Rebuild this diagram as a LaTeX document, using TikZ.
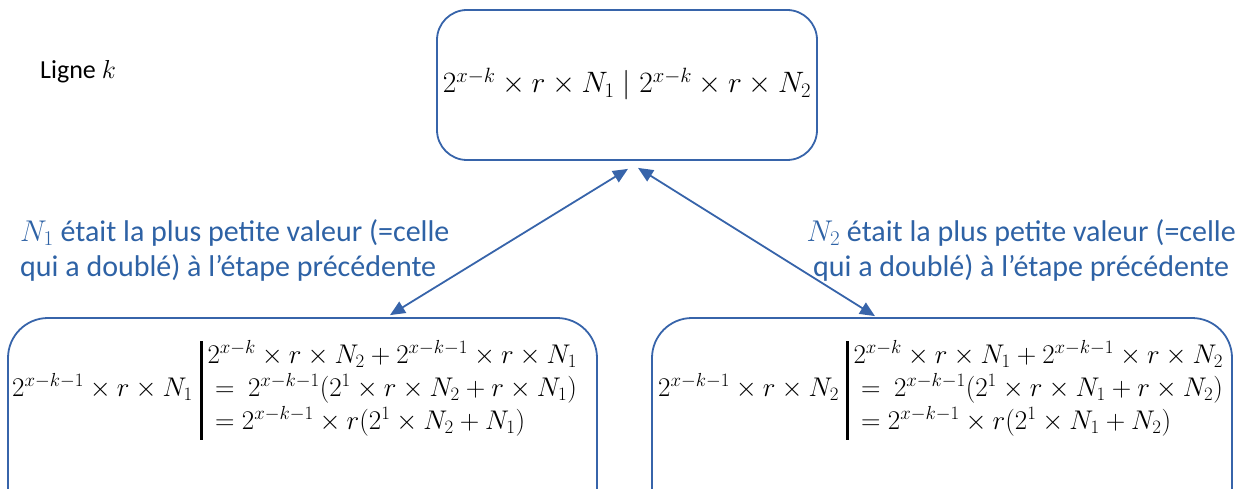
\RequirePackage{fix-cm}
\documentclass[tikz,border=0pt]{standalone}
\usepackage[no-math]{fontspec}
\usepackage{array}
\setmainfont{Carlito}
\usetikzlibrary{arrows.meta,calc}
\definecolor{lineblue}{RGB}{55,100,170}
\definecolor{textblue}{RGB}{46,98,165}
\tikzset{
  box/.style={draw=lineblue, line width=1.8pt, fill=none},
  arr/.style={draw=lineblue, line width=1.8pt, {Triangle[length=15pt,width=13pt]}-{Triangle[length=15pt,width=13pt]}},
  lbl/.style={text=textblue, font=\fontsize{30}{35}\selectfont, inner sep=0pt},
  mathtxt/.style={inner sep=0pt, font=\fontsize{27}{33}\selectfont}
}
\setlength{\arrayrulewidth}{2.6pt}
\begin{document}
\begin{tikzpicture}[x=1pt,y=-1pt]
\useasboundingbox (0,0) rectangle (1248,489);
\clip (0,0) rectangle (1248,489);
% boxes
\node[box, rounded corners=30pt, minimum width=380pt, minimum height=150pt] (top) at (627,85) {};
\node[box, rounded corners=40pt, minimum width=589pt, minimum height=240pt] (lbox) at (302.5,438) {};
\node[box, rounded corners=40pt, minimum width=580pt, minimum height=240pt] (rbox) at (942,438) {};
% texts
\node[inner sep=0pt, font=\fontsize{29.5}{35}\selectfont] (toptext) at (627,84) {$2^{x-k}\times r\times N_1 \mid 2^{x-k}\times r\times N_2$};
\node[inner sep=0pt, anchor=west, font=\fontsize{26}{32}\selectfont] (ligne) at (40,72) {Ligne $k$};
\node[lbl, anchor=west, align=left] (llbl) at (20,250) {$N_1$ était la plus petite valeur (=celle\\qui a doublé) à l’étape précédente};
\node[lbl, anchor=east, align=center] (rlbl) at (1236,250) {$N_2$ était la plus petite valeur (=celle\\qui a doublé) à l’étape précédente};
\node[mathtxt, anchor=west] (ltext) at (12,390) {$2^{x-k-1}\times r\times N_1 \;\begin{array}{@{}|@{\,}l@{}}
2^{x-k}\times r\times N_2+2^{x-k-1}\times r\times N_1\\[0pt]
{}=\ 2^{x-k-1}(2^1\times r\times N_2+r\times N_1)\\[0pt]
{}= 2^{x-k-1}\times r(2^1\times N_2+N_1)
\end{array}$};
\node[mathtxt, anchor=west] (rtext) at (658,390) {$2^{x-k-1}\times r\times N_2 \;\begin{array}{@{}|@{\,}l@{}}
2^{x-k}\times r\times N_1+2^{x-k-1}\times r\times N_2\\[0pt]
{}=\ 2^{x-k-1}(2^1\times r\times N_1+r\times N_2)\\[0pt]
{}= 2^{x-k-1}\times r(2^1\times N_1+N_2)
\end{array}$};
% arrows
\coordinate (a1) at ($(top.south)+(1,8)$);
\coordinate (a2) at ($(lbox.north)+(87.5,-2)$);
\coordinate (b1) at ($(top.south)+(11,7)$);
\coordinate (b2) at ($(rbox.north)+(-67,-1)$);
\draw[arr] (a1) -- (a2);
\draw[arr] (b1) -- (b2);
\end{tikzpicture}
\end{document}
